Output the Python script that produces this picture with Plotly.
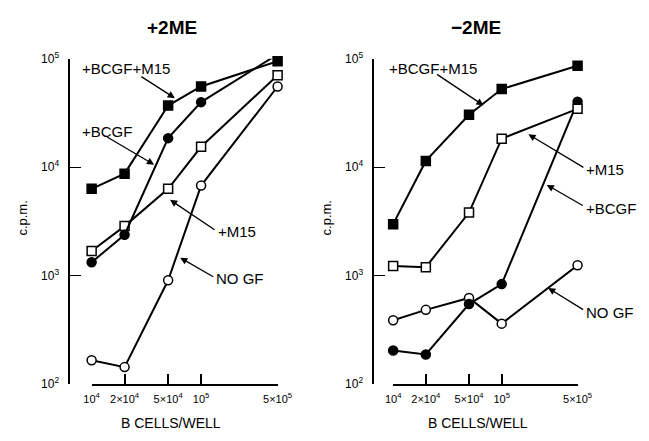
import math
import plotly.graph_objects as go

# ---------------- data ----------------
x_cells = [1e4, 2e4, 5e4, 1e5, 5e5]
x_tick_labels = ["10<sup>4</sup>", "2×10<sup>4</sup>", "5×10<sup>4</sup>", "10<sup>5</sup>", "5×10<sup>5</sup>"]
y_tick_vals = [1e2, 1e3, 1e4, 1e5]
y_tick_labels = ["10<sup>2</sup>", "10<sup>3</sup>", "10<sup>4</sup>", "10<sup>5</sup>"]

# +2ME panel (c.p.m.)
plus_bcgf_m15 = [6300, 8700, 37000, 55500, 95000]
plus_bcgf = [1320, 2370, 18500, 39800, 110000]
plus_m15 = [1680, 2850, 6300, 15400, 70600]
plus_nogf = [164, 142, 900, 6750, 55500]

# -2ME panel (c.p.m.)
minus_bcgf_m15 = [2970, 11400, 30400, 52600, 86300]
minus_m15 = [1220, 1190, 3800, 18300, 34500]
minus_bcgf = [202, 186, 543, 830, 40200]
minus_nogf = [385, 480, 618, 358, 1240]

# ---------------- figure ----------------
W, H = 649, 441
FONT = "Liberation Sans, Arial, Helvetica, sans-serif"

def px(xp):
    return xp / W

def py(yp):
    return (H - yp) / H

fig = go.Figure()

def add_series(xa, ya, vals, symbol, filled):
    fig.add_trace(go.Scatter(
        x=x_cells, y=vals, xaxis=xa, yaxis=ya, mode="lines+markers",
        line=dict(color="black", width=2),
        marker=dict(symbol=symbol, size=9,
                    color="black" if filled else "white",
                    line=dict(color="black", width=1.5)),
        cliponaxis=False, showlegend=False, hoverinfo="skip"))

# left panel
add_series("x", "y", plus_nogf, "circle", False)
add_series("x", "y", plus_m15, "square", False)
add_series("x", "y", plus_bcgf, "circle", True)
add_series("x", "y", plus_bcgf_m15, "square", True)
# right panel
add_series("x2", "y2", minus_nogf, "circle", False)
add_series("x2", "y2", minus_bcgf, "circle", True)
add_series("x2", "y2", minus_m15, "square", False)
add_series("x2", "y2", minus_bcgf_m15, "square", True)

ydom = [py(388.7), py(51.7)]
xr = [math.log10(min(x_cells)), math.log10(max(x_cells))]

def xaxis_cfg(dom, anchor):
    return dict(type="log", domain=dom, range=xr, showgrid=False, zeroline=False,
                showline=True, linecolor="black", linewidth=2,
                ticks="inside", ticklen=10, tickwidth=1.6,
                tickcolor="black", tickvals=x_cells, ticktext=x_tick_labels,
                anchor=anchor, layer="above traces", ticklabelstandoff=4,
                tickfont=dict(family=FONT, size=11, color="black"))

def yaxis_cfg(pos):
    return dict(type="log", domain=ydom, range=[2, 5], showgrid=False, zeroline=False,
                showline=True, linecolor="black", linewidth=1.6,
                ticks="inside", ticklen=11, tickwidth=1.4, tickcolor="black",
                tickvals=y_tick_vals, ticktext=y_tick_labels,
                anchor="free", position=pos,
                ticklabelstandoff=7,
                tickfont=dict(family=FONT, size=12, color="black"))

fig.update_layout(
    width=W, height=H, margin=dict(l=0, r=0, t=0, b=0),
    paper_bgcolor="white", plot_bgcolor="white",
    xaxis=xaxis_cfg([px(86.7), px(279.5)], "y"),
    yaxis=yaxis_cfg(px(63.5)),
    xaxis2=xaxis_cfg([px(399.3), px(590.5)], "y2"),
    yaxis2=yaxis_cfg(px(378.7)),
)

ann = []

def text(xp, yp, s, size=15, anchor="left", angle=0, bold=False):
    ann.append(dict(x=px(xp), y=py(yp), xref="paper", yref="paper", text=s,
                    showarrow=False, xanchor=anchor, yanchor="middle",
                    textangle=angle,
                    font=dict(family=FONT, size=size, color="black",
                              weight="bold" if bold else "normal")))

def arrow(tail, head):
    ann.append(dict(x=px(head[0]), y=py(head[1]), xref="paper", yref="paper", text="",
                    showarrow=True, ax=tail[0] - head[0], ay=tail[1] - head[1],
                    arrowhead=2, arrowsize=1.1, arrowwidth=1.3, arrowcolor="black",
                    standoff=0, startstandoff=0))

# titles
text(170, 19, "+2ME", size=19, anchor="center", bold=True)
text(485.5, 19, "−2ME", size=19, anchor="center", bold=True)
text(169.5, 430, "B CELLS/WELL", size=14, anchor="center")
text(487, 430, "B CELLS/WELL", size=14, anchor="center")
text(15, 217, "c.p.m.", size=13, anchor="center", angle=-90)
text(330, 217, "c.p.m.", size=13, anchor="center", angle=-90)

# left panel labels
text(75, 62, "+BCGF+M15")
arrow((138, 70), (173, 92.5))
text(75, 127, "+BCGF")
arrow((103, 133), (151.5, 161.5))
text(216, 231, "+M15")
arrow((214, 229), (168, 198))
text(214, 280, "NO GF")
arrow((213, 278), (178.5, 258))

# right panel labels
text(393, 62, "+BCGF+M15")
arrow((445, 68), (493, 100))
text(597, 167, "+M15")
arrow((596, 164), (539.5, 130))
text(597, 207, "+BCGF")
arrow((596, 204), (558.5, 182.5))
text(597, 315, "NO GF")
arrow((596.5, 312), (560, 289.5))

fig.update_layout(annotations=ann)
fig.write_html("out.html", config={"displayModeBar": False},
               post_script="document.body.style.margin='0';document.body.style.overflow='hidden';")
